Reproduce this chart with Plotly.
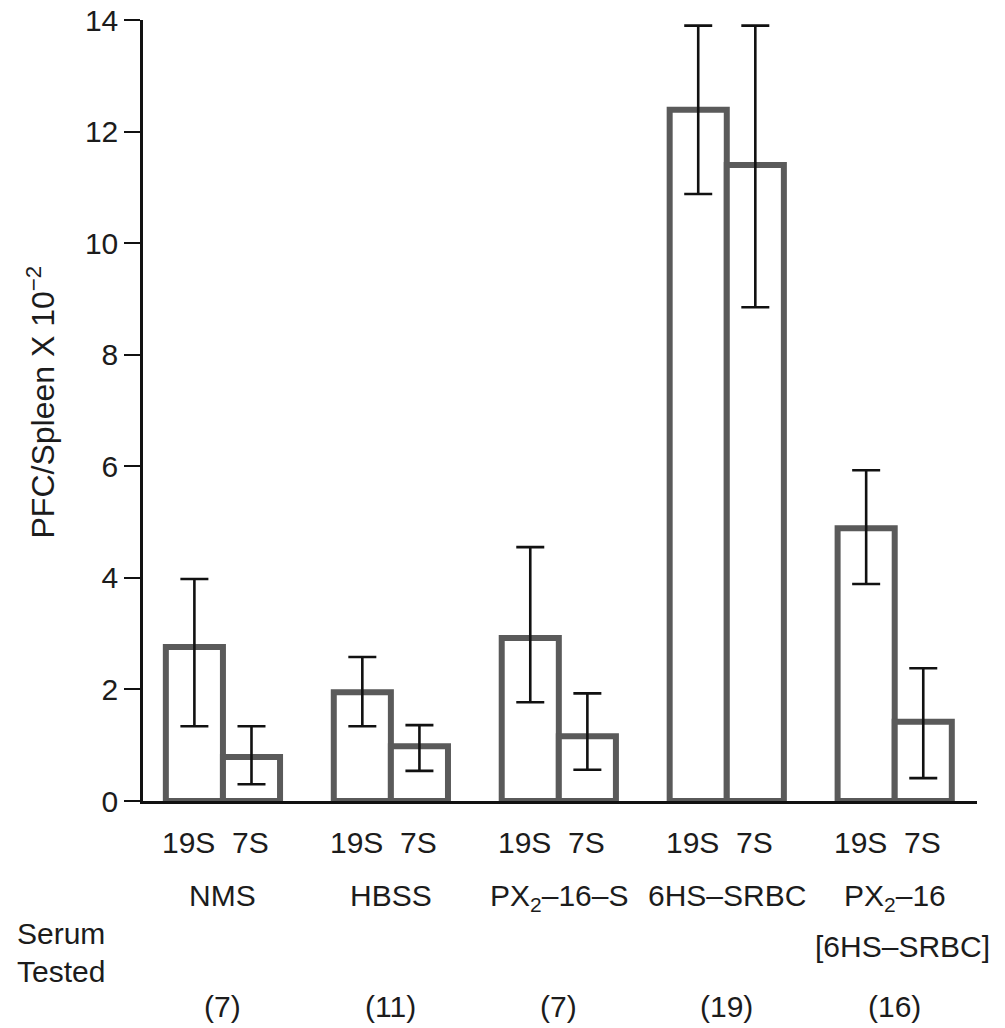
import plotly.graph_objects as go

groups = ["NMS", "HBSS", "PX2-16-S", "6HS-SRBC", "PX2-16 [6HS-SRBC]"]
group_labels = ["NMS", "HBSS", "PX<sub>2</sub>–16–S", "6HS–SRBC", "PX<sub>2</sub>–16"]
counts = ["(7)", "(11)", "(7)", "(19)", "(16)"]
fraction_labels = ["19S", "7S"]

s19_mean = [2.76, 1.95, 2.92, 12.39, 4.89]
s19_upper = [3.98, 2.58, 4.55, 13.90, 5.93]
s19_lower = [1.34, 1.34, 1.77, 10.88, 3.89]

s7_mean = [0.79, 0.98, 1.16, 11.40, 1.42]
s7_upper = [1.34, 1.36, 1.93, 13.90, 2.38]
s7_lower = [0.30, 0.54, 0.56, 8.85, 0.41]

y_ticks = [0, 2, 4, 6, 8, 10, 12, 14]

FONT = "Liberation Sans, Arial, Helvetica, sans-serif"
TXT = "#1c1c1c"
FS = 30

def err(mean, up, lo):
    return dict(type="data", symmetric=False,
                array=[u - m for u, m in zip(up, mean)],
                arrayminus=[m - l for m, l in zip(mean, lo)],
                color="#111111", thickness=2.6, width=14)

fig = go.Figure()
fig.add_trace(go.Bar(name="19S", x=groups, y=s19_mean,
                     marker=dict(color="white", line=dict(color="#5a5a5a", width=6)),
                     error_y=err(s19_mean, s19_upper, s19_lower)))
fig.add_trace(go.Bar(name="7S", x=groups, y=s7_mean,
                     marker=dict(color="white", line=dict(color="#5a5a5a", width=6)),
                     error_y=err(s7_mean, s7_upper, s7_lower)))

fig.update_layout(
    width=997, height=1020,
    margin=dict(l=135, r=28, t=12, b=227),
    paper_bgcolor="white", plot_bgcolor="white",
    barmode="group", bargap=0.32, bargroupgap=0,
    showlegend=False,
    font=dict(family=FONT, color=TXT, size=FS),
)
fig.update_xaxes(range=[-0.476, 4.49], showticklabels=False, ticks="",
                 showline=True, linecolor="#111111", linewidth=2.5,
                 showgrid=False, zeroline=False, automargin=False)
fig.update_yaxes(range=[0, 14], tickvals=y_ticks, ticks="outside", ticklen=16,
                 tickwidth=2, tickcolor="#111111", ticklabeloverflow="allow",
                 showline=True, linecolor="#111111", linewidth=2.5,
                 showgrid=False, zeroline=False, automargin=False,
                 tickfont=dict(size=FS, family=FONT, color=TXT))

def ann(size=FS, **kw):
    base = dict(showarrow=False, font=dict(size=size, family=FONT, color=TXT))
    base.update(kw)
    fig.add_annotation(**base)

# y-axis title
ann(size=32, x=-0.1235, xref="paper", y=0.5, yref="paper", yshift=8, xanchor="center",
    yanchor="middle", textangle=-90, text="PFC/Spleen X 10<sup>−2</sup>")

for i, g in enumerate(groups):
    ann(x=g, xref="x", y=0, yref="paper", yshift=-41, xshift=-34,
        yanchor="middle", text=fraction_labels[0])
    ann(x=g, xref="x", y=0, yref="paper", yshift=-41, xshift=28,
        yanchor="middle", text=fraction_labels[1])
    ann(x=g, xref="x", y=0, yref="paper", yshift=-76, yanchor="top",
        text=group_labels[i])
    ann(x=g, xref="x", y=0, yref="paper", yshift=-205, yanchor="middle",
        text=counts[i])

ann(x=groups[4], xref="x", y=0, yref="paper", yshift=-145, xshift=8,
    yanchor="middle", text="[6HS–SRBC]")
ann(x=-0.1535, xref="paper", xanchor="left", y=0, yref="paper",
    yshift=-132, yanchor="middle", text="Serum")
ann(x=-0.1535, xref="paper", xanchor="left", y=0, yref="paper",
    yshift=-170, yanchor="middle", text="Tested")

fig.write_html("out.html")
